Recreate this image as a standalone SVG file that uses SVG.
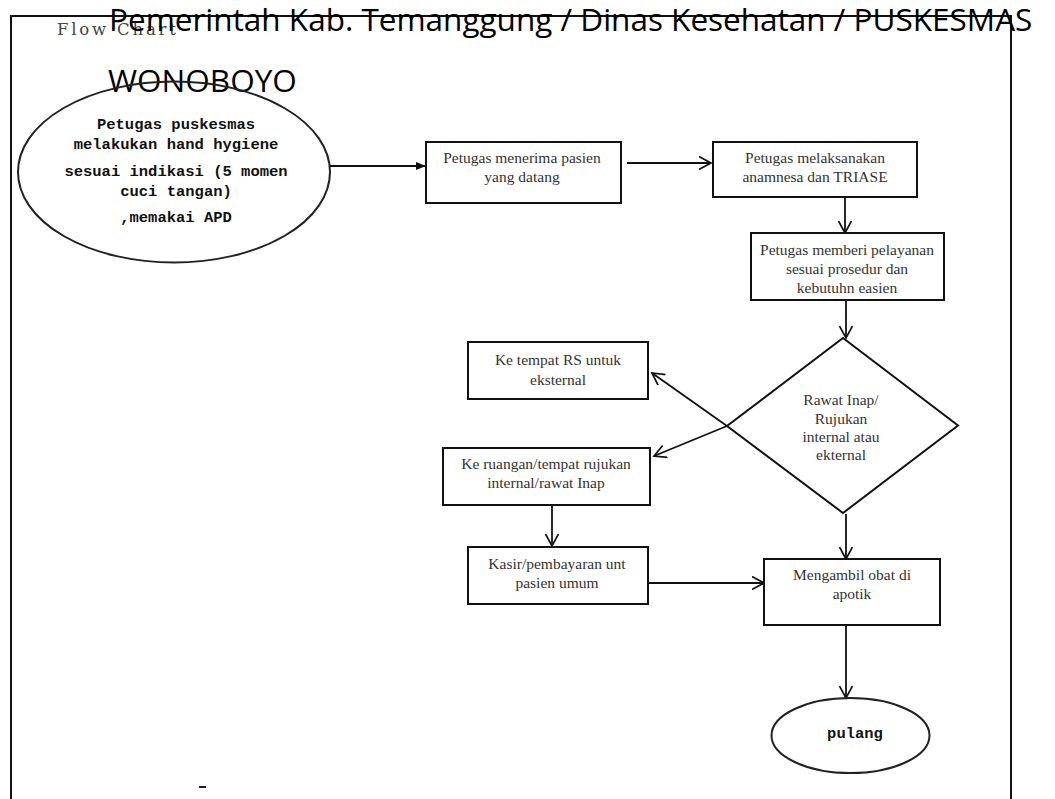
<svg xmlns="http://www.w3.org/2000/svg" width="1055" height="799" viewBox="0 0 1055 799">
<defs>
<marker id="open" markerUnits="userSpaceOnUse" markerWidth="16" markerHeight="16" refX="12" refY="7" orient="auto">
<path d="M0,0.5 L12,7 L0,13.5" fill="none" stroke="#111" stroke-width="1.7"/>
</marker>
<marker id="solid" markerUnits="userSpaceOnUse" markerWidth="12" markerHeight="10" refX="10" refY="5" orient="auto">
<path d="M0,1 L10,5 L0,9 Z" fill="#111"/>
</marker>
<style>
.box{fill:#fff;stroke:#111;stroke-width:2}
.t{font-family:"Liberation Serif",serif;font-size:15.5px;fill:#333;text-anchor:middle}
.m{font-family:"Liberation Mono",monospace;font-weight:bold;font-size:15.5px;fill:#111;text-anchor:middle}
.c{fill:none;stroke:#111;stroke-width:1.8}
.h{font-family:"Open Sans","Noto Sans",sans-serif;font-size:31.5px;fill:#000}
</style>
</defs>
<rect width="1055" height="799" fill="#fff"/>

<g id="frame">
<path d="M11,799 V16 H1011 V799" fill="none" stroke="#111" stroke-width="2"/>
<line x1="199" y1="787" x2="206" y2="787" stroke="#222" stroke-width="2"/>
</g>

<g id="header">
<text x="57" y="35" font-family="DejaVu Serif, serif" font-size="16.5" letter-spacing="2.8" fill="#444">Flow Chart</text>
<text class="h" x="109" y="30.5">Pemerintah Kab. Temanggung / Dinas Kesehatan / PUSKESMAS</text>
<text class="h" x="108" y="92">WONOBOYO</text>
</g>

<g id="connectors">
<line class="c" x1="330" y1="166" x2="426" y2="166" marker-end="url(#solid)"/>
<line class="c" x1="627" y1="163" x2="711" y2="163" marker-end="url(#open)"/>
<line class="c" x1="845" y1="197" x2="845" y2="233" marker-end="url(#open)"/>
<line class="c" x1="846" y1="300" x2="846" y2="338" marker-end="url(#open)"/>
<line class="c" x1="727" y1="426" x2="652" y2="373" marker-end="url(#open)"/>
<line class="c" x1="727" y1="426" x2="654" y2="456" marker-end="url(#open)"/>
<line class="c" x1="552" y1="505" x2="552" y2="546" marker-end="url(#open)"/>
<line class="c" x1="846" y1="514" x2="846" y2="559" marker-end="url(#open)"/>
<line class="c" x1="648" y1="583" x2="764" y2="583" marker-end="url(#open)"/>
<line class="c" x1="846" y1="625" x2="846" y2="698" marker-end="url(#open)"/>
</g>

<g id="start">
<ellipse cx="174" cy="172" rx="156" ry="90.5" fill="none" stroke="#222" stroke-width="2"/>
<text class="m" x="176" y="129">Petugas puskesmas</text>
<text class="m" x="176" y="149">melakukan hand hygiene</text>
<text class="m" x="176" y="176">sesuai indikasi (5 momen</text>
<text class="m" x="176" y="196">cuci tangan)</text>
<text class="m" x="176" y="222">,memakai APD</text>
</g>

<g id="terima">
<rect class="box" x="426" y="142" width="195" height="61"/>
<text class="t" x="522" y="163">Petugas menerima pasien</text>
<text class="t" x="522" y="182">yang datang</text>
</g>

<g id="anamnesa">
<rect class="box" x="713" y="142" width="204" height="55"/>
<text class="t" x="815" y="163">Petugas melaksanakan</text>
<text class="t" x="815" y="182">anamnesa dan TRIASE</text>
</g>

<g id="pelayanan">
<rect class="box" x="751" y="233" width="193" height="67"/>
<text class="t" x="847" y="255">Petugas memberi pelayanan</text>
<text class="t" x="847" y="274">sesuai prosedur dan</text>
<text class="t" x="847" y="293">kebutuhn easien</text>
</g>

<g id="keputusan">
<polygon points="843,338 958,425.5 843,513 727,426" fill="none" stroke="#111" stroke-width="2"/>
<text class="t" x="841" y="405">Rawat Inap/</text>
<text class="t" x="841" y="424">Rujukan</text>
<text class="t" x="841" y="442">internal atau</text>
<text class="t" x="841" y="460">ekternal</text>
</g>

<g id="rs">
<rect class="box" x="468" y="342" width="180" height="57"/>
<text class="t" x="558" y="365">Ke tempat RS untuk</text>
<text class="t" x="558" y="385">eksternal</text>
</g>

<g id="ruangan">
<rect class="box" x="443" y="448" width="207" height="57"/>
<text class="t" x="546" y="469">Ke ruangan/tempat rujukan</text>
<text class="t" x="546" y="488">internal/rawat Inap</text>
</g>

<g id="kasir">
<rect class="box" x="468" y="547" width="180" height="57"/>
<text class="t" x="557" y="569">Kasir/pembayaran unt</text>
<text class="t" x="557" y="588">pasien umum</text>
</g>

<g id="obat">
<rect class="box" x="764" y="559" width="176" height="66"/>
<text class="t" x="852" y="580">Mengambil obat di</text>
<text class="t" x="852" y="599">apotik</text>
</g>

<g id="pulang">
<ellipse cx="850.5" cy="735.5" rx="79" ry="37.5" fill="none" stroke="#222" stroke-width="2"/>
<text class="m" x="855" y="738" font-size="16">pulang</text>
</g>
</svg>
